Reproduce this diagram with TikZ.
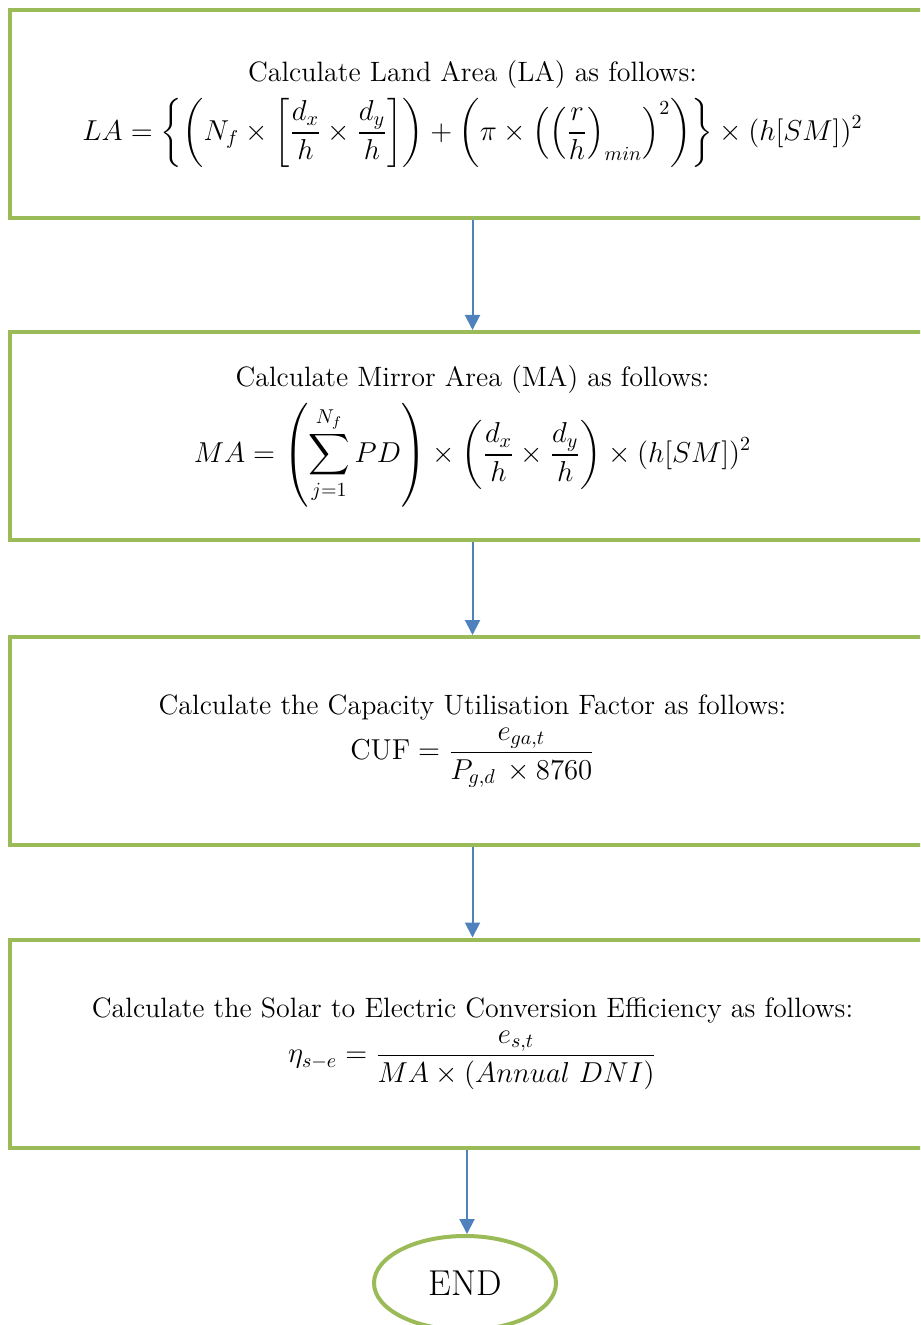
\documentclass[tikz,border=0pt]{standalone}
\usepackage{amsmath}
\usepackage{tikz}
\usetikzlibrary{shapes.geometric,arrows.meta}
\definecolor{boxgreen}{RGB}{155,187,89}
\definecolor{arrowblue}{RGB}{79,129,189}
\tikzset{
  stepbox/.style={rectangle, draw=boxgreen, line width=2pt, minimum width=462.5pt, minimum height=104pt, inner sep=0pt, align=center, font=\fontsize{14}{17}\selectfont},
  endnode/.style={ellipse, draw=boxgreen, line width=2pt, minimum width=91pt, minimum height=47pt, inner sep=0pt, font=\fontsize{18}{21}\selectfont},
  flow/.style={draw=arrowblue, line width=1pt, -{Triangle[width=7.5pt,length=7.5pt]}}
}

\begin{document}
\begin{tikzpicture}[x=0.5pt, y=-0.5pt]
  \clip (0,0) rectangle (920,1325);
  \useasboundingbox (0,0) rectangle (920,1325);

  \node[stepbox] (la) at (472.5,114) {Calculate Land Area (LA) as follows:\\[4pt]
    $\displaystyle LA=\left\{\left(N_f\times\left[\frac{d_x}{h}\times\frac{d_y}{h}\right]\right)+\left(\pi\times\left(\left(\frac{r}{h}\right)_{min}\right)^2\right)\right\}\times(h[SM])^2$};
  \node[stepbox] (ma) at (472.5,436) {Calculate Mirror Area (MA) as follows:\\[4pt]
    $\displaystyle MA=\left(\sum_{j=1}^{N_f}PD\right)\times\left(\frac{d_x}{h}\times\frac{d_y}{h}\right)\times(h[SM])^2$};
  \node[stepbox] (cuf) at (472.5,741) {Calculate the Capacity Utilisation Factor as follows:\\[3pt]
    $\displaystyle \mathrm{CUF}=\frac{e_{ga,t}}{P_{g,d}\,\times 8760}$};
  \node[stepbox] (eta) at (472.5,1043.5) {Calculate the Solar to Electric Conversion Efficiency as follows:\\[3pt]
    $\displaystyle \eta_{s-e}=\frac{e_{s,t}}{MA\times(Annual\ DNI)}$};
  \node[endnode] (end) at (465,1283) {END};

  \draw[flow] (la.south) -- (ma.north);
  \draw[flow] (ma.south) -- (cuf.north);
  \draw[flow] (cuf.south) -- (eta.north);
  \draw[flow] (eta.south -| 467,0) -- (end.north -| 467,0);
\end{tikzpicture}
\end{document}
